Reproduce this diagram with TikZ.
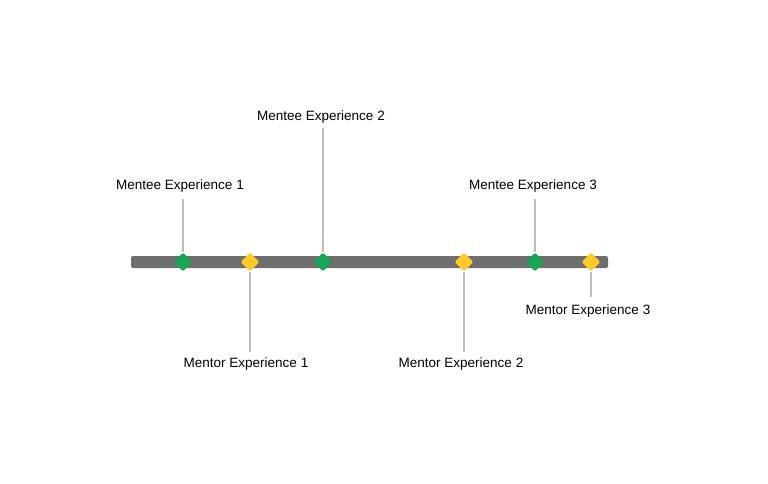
\documentclass[tikz,border=0pt]{standalone}
\usepackage{fontspec}
\setmainfont{Liberation Sans}
\usetikzlibrary{shapes.geometric}
\definecolor{gr}{HTML}{17A556}
\definecolor{yl}{HTML}{FFC928}
\definecolor{bar}{HTML}{6E6E6E}
\definecolor{stem}{HTML}{BDBDBD}
\tikzset{
 dia/.style={diamond,minimum width=19pt,minimum height=19pt,inner sep=0pt,rounded corners=2pt},
 gd/.style={dia,fill=gr},
 yd/.style={dia,fill=yl},
 lbl/.style={font=\fontsize{13.5}{16}\selectfont,inner sep=0pt},
 st/.style={stem,line width=2pt}
}
\begin{document}
\begin{tikzpicture}[x=1pt,y=-1pt]
\useasboundingbox (0,0) rectangle (768,484);
\fill[bar,rounded corners=2pt] (131,256) rectangle (608,268);
\node[lbl] (l1) at (180,186) {Mentee Experience 1};
\node[lbl] (l2) at (321,117) {Mentee Experience 2};
\node[lbl] (l3) at (533,186) {Mentee Experience 3};
\node[lbl] (m1) at (246,364) {Mentor Experience 1};
\node[lbl] (m2) at (461,364) {Mentor Experience 2};
\node[lbl] (m3) at (588,311) {Mentor Experience 3};
\coordinate (c1) at (183,199); \coordinate (c2) at (323,128); \coordinate (c3) at (535,199);
\coordinate (d1) at (250,352); \coordinate (d2) at (464,352); \coordinate (d3) at (591,297);
\node[gd] (g1) at (183,262) {}; \node[gd] (g2) at (323,262) {}; \node[gd] (g3) at (535,262) {};
\node[yd] (y1) at (250,262) {}; \node[yd] (y2) at (464,262) {}; \node[yd] (y3) at (591,262) {};
\draw[st] (c1) -- (g1.north); \draw[st] (c2) -- (g2.north); \draw[st] (c3) -- (g3.north);
\draw[st] (y1.south) -- (d1); \draw[st] (y2.south) -- (d2); \draw[st] (y3.south) -- (d3);
\end{tikzpicture}
\end{document}
